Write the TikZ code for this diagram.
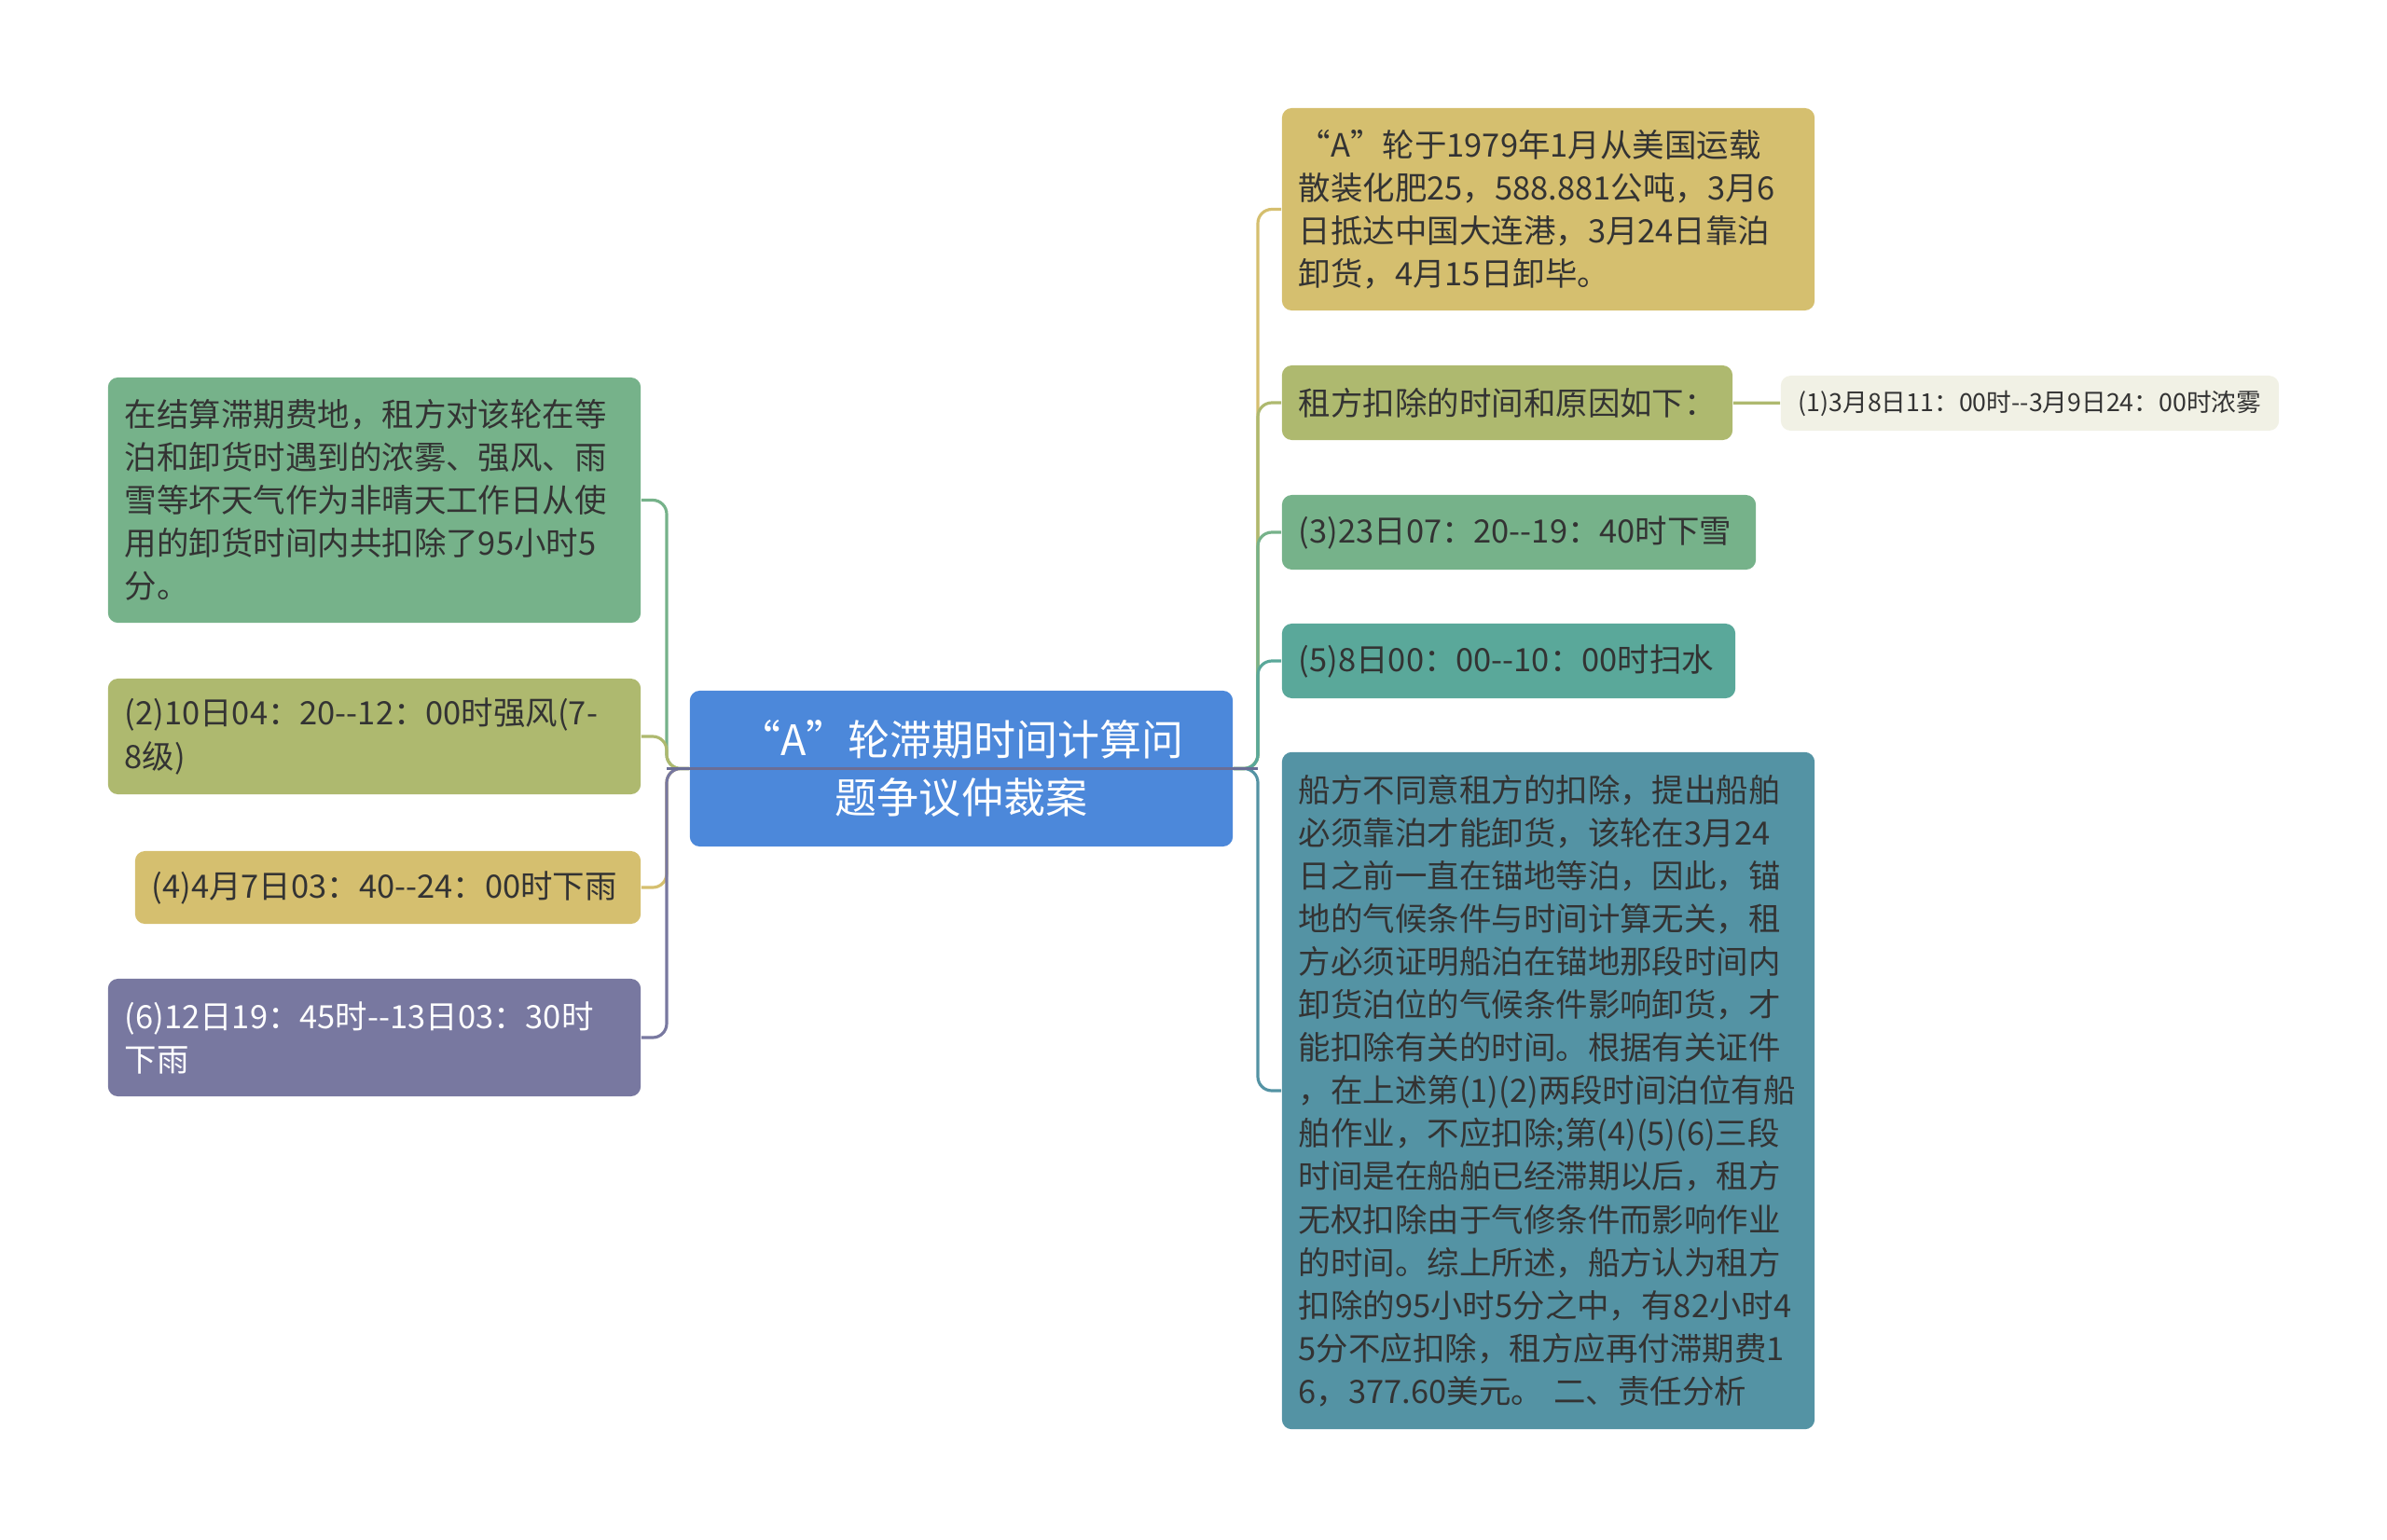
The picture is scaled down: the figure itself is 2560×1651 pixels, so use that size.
\documentclass[tikz,border=0pt]{standalone}
\usepackage{fontspec}
\setmainfont{Noto Sans CJK SC}
\definecolor{hubblue}{HTML}{4C88DA}
\definecolor{tan}{HTML}{D5BF6F}
\definecolor{olive}{HTML}{AEB96F}
\definecolor{leaf}{HTML}{76B28A}
\definecolor{teal}{HTML}{5AA89A}
\definecolor{sea}{HTML}{5493A4}
\definecolor{dusk}{HTML}{7878A0}
\definecolor{cream}{HTML}{F1F1E5}
\definecolor{ink}{HTML}{333333}
\definecolor{bar}{HTML}{6A6E96}
\tikzset{
  topic/.style={rounded corners=3pt, inner xsep=0.18cm, inner ysep=0pt, align=left,
    text=ink, font=\fontsize{9.8}{13.1}\selectfont},
  link/.style={line width=0.9pt, rounded corners=0.15cm},
}
\begin{document}
\begin{tikzpicture}[x=0.01cm, y=-0.01cm]
            \useasboundingbox (0, 0) rectangle (2560, 1651);

            \node (core) at (1031, 824.5) [fill=hubblue, text=white, rounded corners=3pt, align=center,
              minimum width=5.82cm, minimum height=1.67cm, font=\fontsize{12.8}{17.6}\selectfont]
              {“A”轮滞期时间计算问\\题争议仲裁案};
            \coordinate (lbus) at (715, 824.5);
            \coordinate (rbus) at (1349, 824.5);

            % right side
            \node (r1) at (1660.5, 224.5) [topic, fill=tan, text width=5.35cm, minimum height=2.17cm]
              {“A”轮于1979年1月从美国运载\\散装化肥25，588.881公吨，3月6\\日抵达中国大连港，3月24日靠泊\\卸货，4月15日卸毕。};
            \node (r2) at (1616.5, 432) [topic, fill=olive, text width=4.47cm, minimum height=0.8cm]
              {租方扣除的时间和原因如下：};
            \node (r2a) at (2177, 432.5) [topic, fill=cream, align=center, minimum width=5.34cm,
              minimum height=0.59cm, font=\fontsize{7.6}{10}\selectfont]
              {(1)3月8日11：00时-{}-3月9日24：00时浓雾};
            \node (r3) at (1629, 571) [topic, fill=leaf, text width=4.72cm, minimum height=0.8cm]
              {(3)23日07：20-{}-19：40时下雪};
            \node (r4) at (1618, 709) [topic, fill=teal, text width=4.5cm, minimum height=0.8cm]
              {(5)8日00：00-{}-10：00时扫水};
            \node (r5) at (1660.5, 1170) [topic, fill=sea, text width=5.35cm, minimum height=7.26cm]
              {船方不同意租方的扣除，提出船舶\\必须靠泊才能卸货，该轮在3月24\\日之前一直在锚地等泊，因此，锚\\地的气候条件与时间计算无关，租\\方必须证明船泊在锚地那段时间内\\卸货泊位的气候条件影响卸货，才\\能扣除有关的时间。根据有关证件\\，在上述第(1)(2)两段时间泊位有船\\舶作业，不应扣除;第(4)(5)(6)三段\\时间是在船舶已经滞期以后，租方\\无权扣除由于气修条件而影响作业\\的时间。综上所述，船方认为租方\\扣除的95小时5分之中，有82小时4\\5分不应扣除，租方应再付滞期费1\\6，377.60美元。 二、责任分析};

            % left side
            \node (l1) at (401.5, 536.5) [topic, fill=leaf, text width=5.35cm, minimum height=2.63cm]
              {在结算滞期费地，租方对该轮在等\\泊和卸货时遇到的浓雾、强风、雨\\雪等坏天气作为非晴天工作日从使\\用的卸货时间内共扣除了95小时5\\分。};
            \node (l2) at (401.5, 790) [topic, fill=olive, text width=5.35cm, minimum height=1.24cm]
              {(2)10日04：20-{}-12：00时强风(7-\\8级)};
            \node (l3) at (416, 952) [topic, fill=tan, text width=5.06cm, minimum height=0.78cm]
              {(4)4月7日03：40-{}-24：00时下雨};
            \node (l4) at (401.5, 1113) [topic, fill=dusk, text=white, text width=5.35cm, minimum height=1.26cm]
              {(6)12日19：45时-{}-13日03：30时\\下雨};

            \draw[link, tan] (core.east) -- (rbus) |- (r1.west);
            \draw[link, olive] (core.east) -- (rbus) |- (r2.west);
            \draw[link, leaf] (core.east) -- (rbus) |- (r3.west);
            \draw[link, teal] (core.east) -- (rbus) |- (r4.west);
            \draw[link, sea] (core.east) -- (rbus) |- (r5.west);
            \draw[link, olive] (r2) -- (r2a);

            \draw[link, leaf] (core.west) -- (lbus) |- (l1.east);
            \draw[link, olive] (core.west) -- (lbus) |- (l2.east);
            \draw[link, tan] (core.west) -- (lbus) |- (l3.east);
            \draw[link, dusk] (core.west) -- (lbus) |- (l4.east);

            \draw[line width=0.9pt, bar] (lbus) -- (rbus);

        \end{tikzpicture}
\end{document}
